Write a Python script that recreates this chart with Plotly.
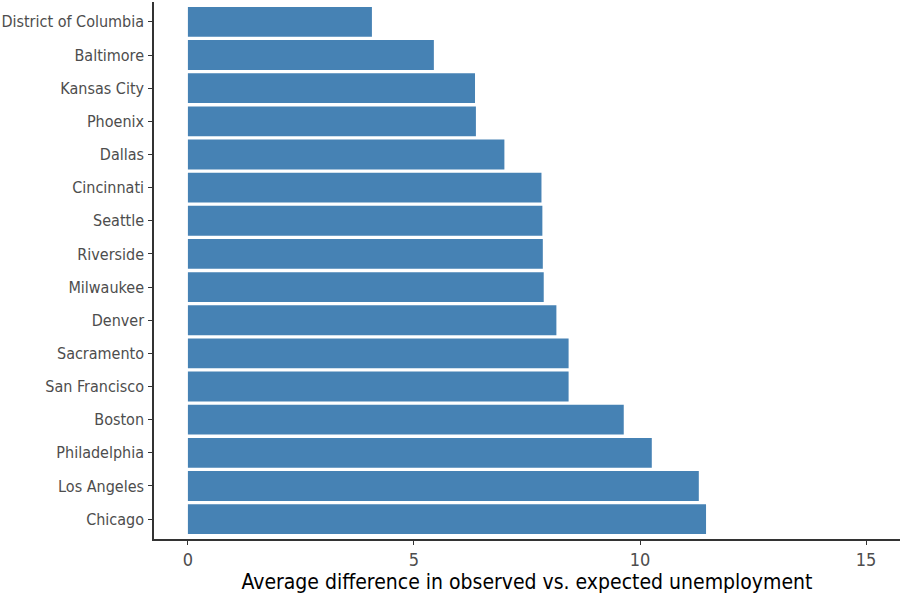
import plotly.graph_objects as go

cities = ["Chicago", "Los Angeles", "Philadelphia", "Boston", "San Francisco",
          "Sacramento", "Denver", "Milwaukee", "Riverside", "Seattle",
          "Cincinnati", "Dallas", "Phoenix", "Kansas City", "Baltimore",
          "District of Columbia"]
values = [11.46, 11.30, 10.26, 9.64, 8.42, 8.42, 8.15, 7.87, 7.85, 7.84,
          7.82, 7.00, 6.37, 6.35, 5.44, 4.07]
x_ticks = [0, 5, 10, 15]

FONT = "DejaVu Sans Condensed, Liberation Sans Narrow, sans-serif"

fig = go.Figure(go.Bar(
    x=values, y=cities, orientation="h",
    marker=dict(color="#4682B4", line=dict(width=0)),
    width=0.9,
))

fig.update_layout(
    width=900, height=600,
    margin=dict(l=154, r=0, t=2, b=61, autoexpand=False),
    paper_bgcolor="white", plot_bgcolor="white",
    showlegend=False,
    font=dict(family=FONT),
)
fig.update_xaxes(
    range=[-0.75, 15.75], tickvals=x_ticks, ticktext=[str(v) for v in x_ticks],
    showgrid=False, zeroline=False, automargin=False,
    showline=True, linecolor="#333333", linewidth=1.5,
    ticks="outside", ticklen=4, tickcolor="#333333", tickwidth=1,
    tickfont=dict(size=18, color="#4D4D4D", family=FONT),
    title=dict(text="Average difference in observed vs. expected unemployment",
               font=dict(size=21, color="black", family=FONT), standoff=4),
)
fig.update_yaxes(
    categoryorder="array", categoryarray=cities,
    range=[-0.6, 15.6], automargin=False,
    showgrid=False, zeroline=False,
    showline=True, linecolor="#333333", linewidth=1.5,
    ticks="outside", ticklen=4, tickcolor="#333333", tickwidth=1,
    ticklabelstandoff=1,
    tickfont=dict(size=16, color="#4D4D4D", family=FONT),
)

fig.write_html("out.html")
